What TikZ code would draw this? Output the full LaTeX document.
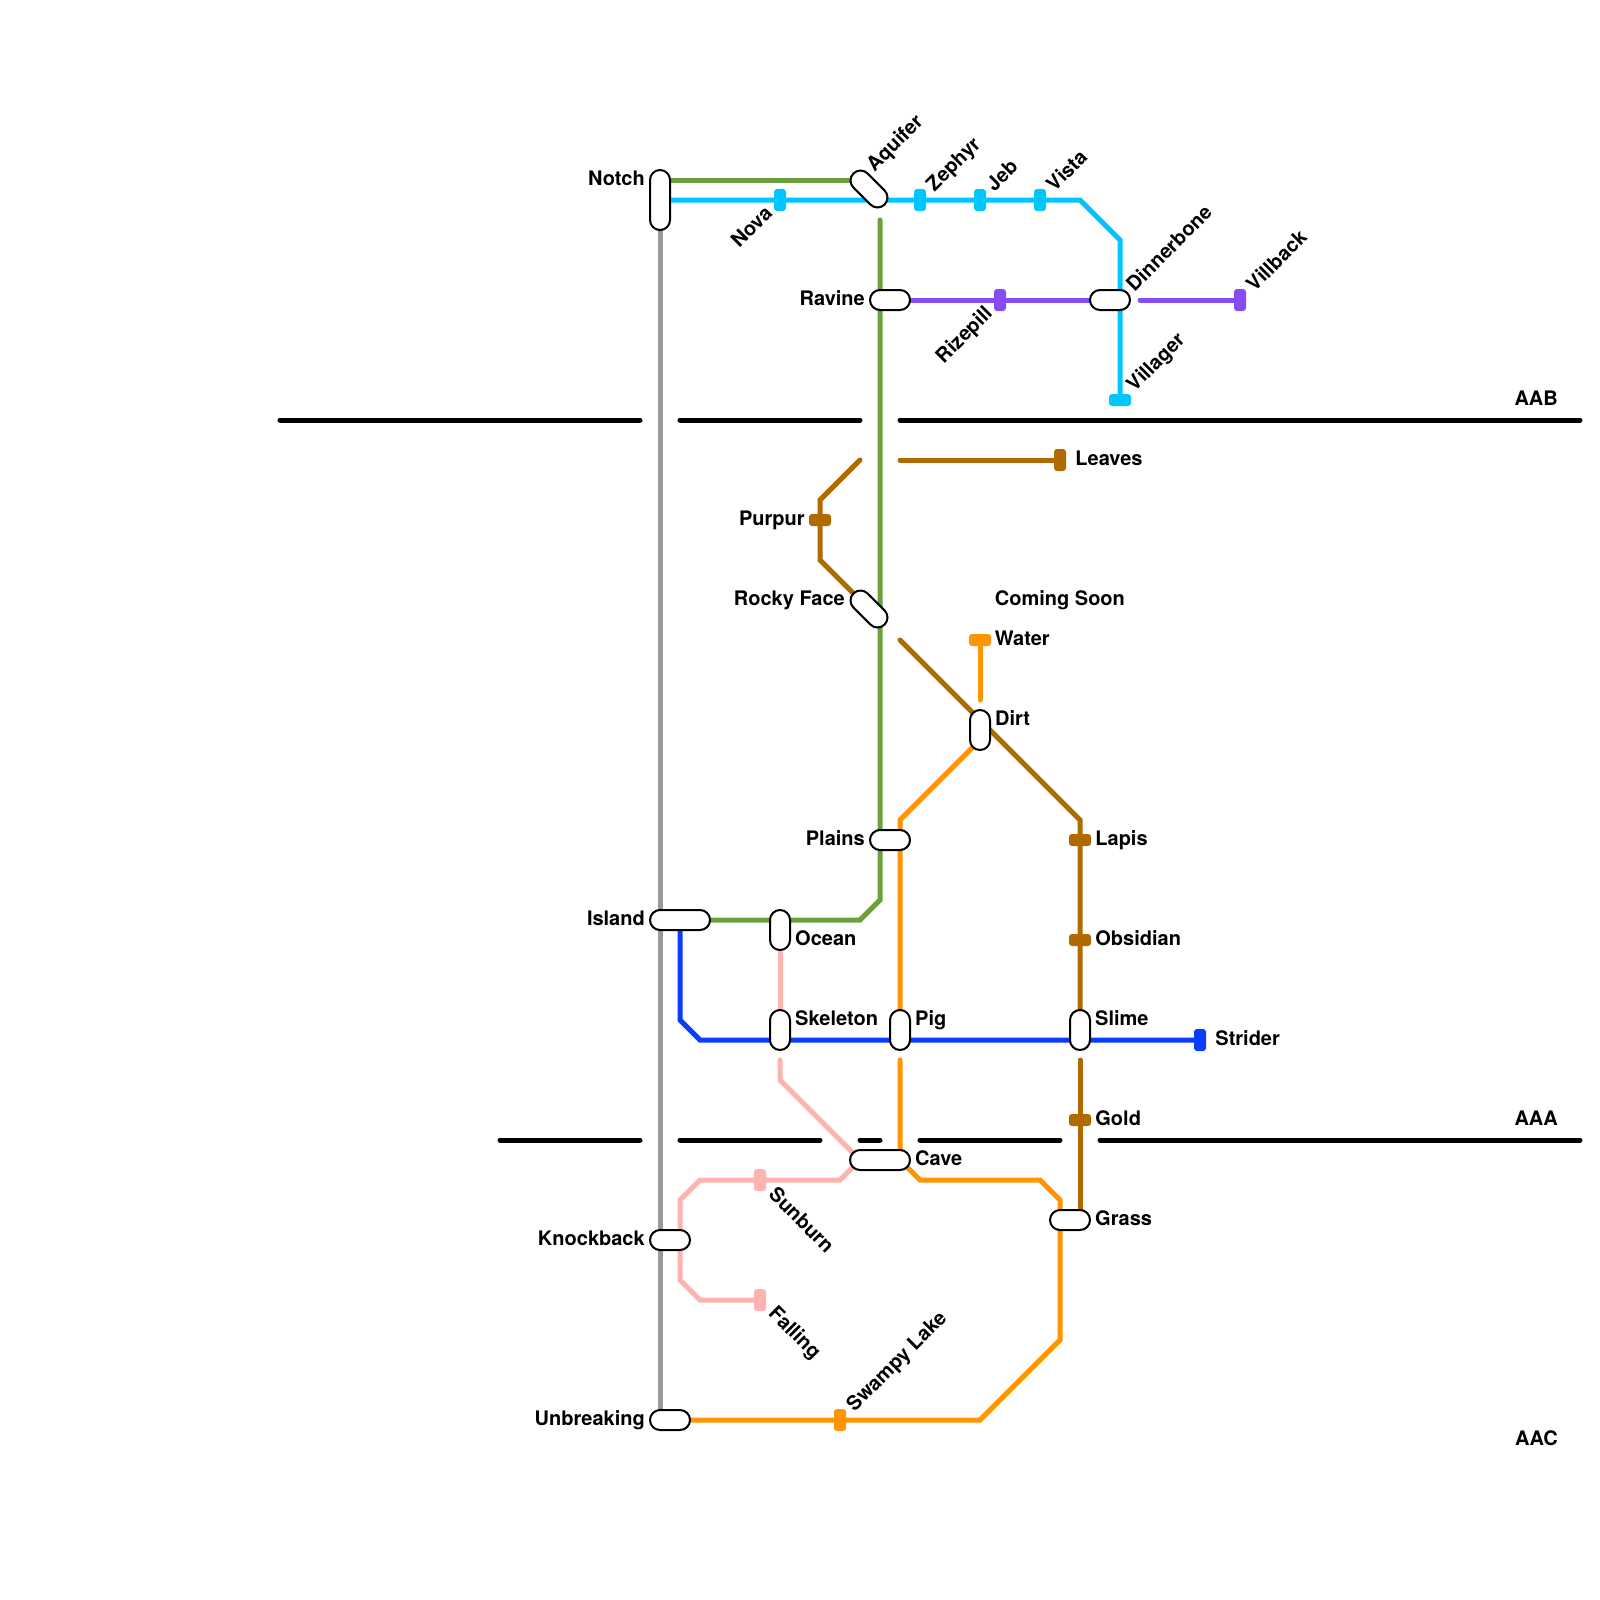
\documentclass[tikz,border=0pt]{standalone}
\usepackage{fontspec}
\setmainfont{TeX Gyre Heros}
\usepackage{xcolor}
\usepackage{tikz}
\usetikzlibrary{positioning, calc, backgrounds}

\definecolor{lineGreen}{HTML}{6AA13C}
\definecolor{lineCyan}{HTML}{00C5FF}
\definecolor{linePurple}{HTML}{844DF5}
\definecolor{lineBrown}{HTML}{B06A00}
\definecolor{lineOrange}{HTML}{FF9500}
\definecolor{linePink}{HTML}{FFB3AE}
\definecolor{lineBlue}{HTML}{0A3CFF}
\definecolor{lineGray}{HTML}{999999}

\begin{document}
\begin{tikzpicture}[x=1pt, y=-1pt,
    wide/.style={rectangle, draw=black, line width=2pt, fill=white, rounded corners=10pt, inner sep=0pt, minimum width=40pt, minimum height=20pt},
    tall/.style={wide, minimum width=20pt, minimum height=40pt},
    stopv/.style={rectangle, rounded corners=3pt, inner sep=0pt, minimum width=12pt, minimum height=22pt},
    stoph/.style={stopv, minimum width=22pt, minimum height=12pt},
    lbl/.style={font=\fontsize{20}{22}\selectfont\bfseries, inner sep=0pt, text height=14pt, text depth=4pt},
    route/.style={line width=5pt, line cap=round},
    border/.style={route, draw=black},
    greenline/.style={route, draw=lineGreen},
    cyanline/.style={route, draw=lineCyan},
    purpleline/.style={route, draw=linePurple},
    brownline/.style={route, draw=lineBrown},
    orangeline/.style={route, draw=lineOrange},
    pinkline/.style={route, draw=linePink},
    blueline/.style={route, draw=lineBlue},
    grayline/.style={route, draw=lineGray}
]
    \useasboundingbox (0,0) rectangle (1600,1600);

    % Interchanges
    \node [tall, minimum height=60pt] (notch) at (660,200) {};
    \node [wide, minimum width=44pt, rotate=-45] (aquifer) at (869,189) {};
    \node [wide] (ravine) at (890,300) {};
    \node [wide] (dinnerbone) at (1110,300) {};
    \node [wide, minimum width=44pt, rotate=-45] (rocky) at (869,609) {};
    \node [tall] (dirt) at (980,730) {};
    \node [wide] (plains) at (890,840) {};
    \node [wide, minimum width=60pt] (island) at (680,920) {};
    \node [tall] (ocean) at (780,930) {};
    \node [tall] (skeleton) at (780,1030) {};
    \node [tall] (pig) at (900,1030) {};
    \node [tall] (slime) at (1080,1030) {};
    \node [wide, minimum width=60pt] (cave) at (880,1160) {};
    \node [wide] (grass) at (1070,1220) {};
    \node [wide] (knockback) at (670,1240) {};
    \node [wide] (unbreaking) at (670,1420) {};

    % Stops
    \node [stopv, fill=lineCyan] (nova) at (780,200) {};
    \node [stopv, fill=lineCyan] (zephyr) at (920,200) {};
    \node [stopv, fill=lineCyan] (jeb) at (980,200) {};
    \node [stopv, fill=lineCyan] (vista) at (1040,200) {};
    \node [stoph, fill=lineCyan] (villager) at (1120,400) {};
    \node [stopv, fill=linePurple] (rizepill) at (1000,300) {};
    \node [stopv, fill=linePurple] (villback) at (1240,300) {};
    \node [stopv, fill=lineBrown] (leaves) at (1060,460) {};
    \node [stoph, fill=lineBrown] (purpur) at (820,520) {};
    \node [stoph, fill=lineBrown] (lapis) at (1080,840) {};
    \node [stoph, fill=lineBrown] (obsidian) at (1080,940) {};
    \node [stoph, fill=lineBrown] (gold) at (1080,1120) {};
    \node [stoph, fill=lineOrange] (water) at (980,640) {};
    \node [stopv, fill=lineOrange] (swampy) at (840,1420) {};
    \node [stopv, fill=lineBlue] (strider) at (1200,1040) {};
    \node [stopv, fill=linePink] (sunburn) at (760,1180) {};
    \node [stopv, fill=linePink] (falling) at (760,1300) {};

    % Labels
    \node [lbl, left=4pt of notch, yshift=20pt] {Notch};
    \node [lbl, left=4pt of ravine] {Ravine};
    \node [lbl, anchor=east] at ($(rocky)+(-24,-9)$) {Rocky Face};
    \node [lbl, left=4pt of purpur] {Purpur};
    \node [lbl, left=4pt of plains] {Plains};
    \node [lbl, left=4pt of island] {Island};
    \node [lbl, left=4pt of knockback] {Knockback};
    \node [lbl, left=4pt of unbreaking] {Unbreaking};
    \node [lbl, right=4pt of ocean, yshift=-10pt] {Ocean};
    \node [lbl, right=4pt of skeleton, yshift=10pt] {Skeleton};
    \node [lbl, right=4pt of pig, yshift=10pt] {Pig};
    \node [lbl, right=4pt of slime, yshift=10pt] {Slime};
    \node [lbl, right=9pt of strider] {Strider};
    \node [lbl, right=4pt of cave] {Cave};
    \node [lbl, right=4pt of gold] {Gold};
    \node [lbl, right=4pt of grass] {Grass};
    \node [lbl, right=4pt of lapis] {Lapis};
    \node [lbl, right=4pt of obsidian] {Obsidian};
    \node [lbl, right=9pt of leaves] {Leaves};
    \node [lbl, right=3.5pt of water] (waterlbl) {Water};
    \node [lbl, anchor=west] at ($(waterlbl.west)+(0,-40)$) {Coming Soon};
    \node [lbl, right=4pt of dirt, yshift=10pt] {Dirt};

    % Slanted labels
    \node [lbl, rotate=45, anchor=west] at ($(aquifer)+(2,-20)$) {Aquifer};
    \node [lbl, rotate=45, anchor=west] at ($(zephyr)+(11,-11)$) {Zephyr};
    \node [lbl, rotate=45, anchor=west] at ($(jeb)+(11,-11)$) {Jeb};
    \node [lbl, rotate=45, anchor=west] at ($(vista)+(11,-11)$) {Vista};
    \node [lbl, rotate=45, anchor=west] at ($(dinnerbone)+(21,-11)$) {Dinnerbone};
    \node [lbl, rotate=45, anchor=west] at ($(villback)+(11,-11)$) {Villback};
    \node [lbl, rotate=45, anchor=west] at ($(villager)+(11,-11)$) {Villager};
    \node [lbl, rotate=45, anchor=west] at ($(swampy)+(11,-11)$) {Swampy Lake};
    \node [lbl, rotate=45, anchor=east] at ($(nova)+(-10,11)$) {Nova};
    \node [lbl, rotate=45, anchor=east] at ($(rizepill)+(-10,11)$) {Rizepill};
    \node [lbl, rotate=-45, anchor=west] at ($(sunburn)+(11,12)$) {Sunburn};
    \node [lbl, rotate=-45, anchor=west] at ($(falling)+(11,11)$) {Falling};

    % Zones
    \node [lbl, anchor=east] (aab) at (1558,400) {AAB};
    \node [lbl, anchor=east] (aaa) at (1558,1120) {AAA};
    \node [lbl, anchor=east] (aac) at (1558,1440) {AAC};

    \coordinate (ab1) at (280,420);
    \coordinate (ab2) at (640,420);
    \coordinate (ab3) at (680,420);
    \coordinate (ab4) at (860,420);
    \coordinate (ab5) at (900,420);
    \coordinate (ab6) at (1580,420);
    \draw [border] (ab1) -- (ab2);
    \draw [border] (ab3) -- (ab4);
    \draw [border] (ab5) -- (ab6);

    \coordinate (aa1) at (500,1140);
    \coordinate (aa2) at (640,1140);
    \coordinate (aa3) at (680,1140);
    \coordinate (aa4) at (820,1140);
    \coordinate (aa5) at (860,1140);
    \coordinate (aa6) at (880,1140);
    \coordinate (aa7) at (920,1140);
    \coordinate (aa8) at (1060,1140);
    \coordinate (aa9) at (1100,1140);
    \coordinate (aa10) at (1580,1140);
    \draw [border] (aa1) -- (aa2);
    \draw [border] (aa3) -- (aa4);
    \draw [border] (aa5) -- (aa6);
    \draw [border] (aa7) -- (aa8);
    \draw [border] (aa9) -- (aa10);

    % Bends
    \coordinate (c1) at (1080,200);
    \coordinate (c2) at (1120,240);
    \coordinate (g1) at (880,220);
    \coordinate (g2) at (880,900);
    \coordinate (g3) at (860,920);
    \coordinate (p1) at (1140,300);
    \coordinate (br1) at (900,460);
    \coordinate (br2) at (860,460);
    \coordinate (br3) at (820,500);
    \coordinate (br4) at (820,560);
    \coordinate (br5) at (900,640);
    \coordinate (br6) at (1080,820);
    \coordinate (br7) at (1080,1060);
    \coordinate (o1) at (980,700);
    \coordinate (o2) at (900,820);
    \coordinate (o3) at (900,1060);
    \coordinate (o4) at (920,1180);
    \coordinate (o5) at (1040,1180);
    \coordinate (o6) at (1060,1200);
    \coordinate (o7) at (1060,1340);
    \coordinate (o8) at (980,1420);
    \coordinate (b1) at (680,1020);
    \coordinate (b2) at (700,1040);
    \coordinate (k1) at (780,1060);
    \coordinate (k2) at (780,1080);
    \coordinate (k3) at (840,1180);
    \coordinate (k4) at (700,1180);
    \coordinate (k5) at (680,1200);
    \coordinate (k6) at (680,1280);
    \coordinate (k7) at (700,1300);

    % Lines
    \begin{scope}[on background layer]
    \path [grayline] (notch.center) -- (unbreaking.center -| notch.center);
    \path [greenline] ([yshift=20pt]notch.center) -- ([xshift=-9pt, yshift=9pt]aquifer.center);
    \path [greenline] (g1) -- (ravine.center -| g1) -- (rocky.center -| g1) -- (g2) -- (g3) -- (island.center);
    \path [cyanline] (notch.center) -- (nova.center) -- (zephyr.center) -- (jeb.center) -- (vista.center) -- (c1) -- (c2) -- (villager.center);
    \path [purpleline] (ravine.center) -- (rizepill.center) -- (dinnerbone.center);
    \path [purpleline] (p1) -- (villback.center);
    \path [brownline] (br1) -- (leaves.center);
    \path [brownline] (br2) -- (br3) -- (purpur.center) -- (br4) -- (rocky.center);
    \path [brownline] (br5) -- (br6) -- (lapis.center) -- (obsidian.center) -- (slime.center);
    \path [brownline] (br7) -- (gold.center) -- (grass.center -| gold.center);
    \path [orangeline] (water.center) -- (o1);
    \path [orangeline] ([yshift=-10pt]dirt.center) -- (o2) -- (pig.center);
    \path [orangeline] (o3) -- ([xshift=20pt]cave.center) -- (o4) -- (o5) -- (o6) -- (o7) -- (o8) -- (swampy.center) -- (unbreaking.center);
    \path [blueline] (island.center) -- (b1) -- (b2) -- (skeleton.center |- b2) -- (pig.center |- b2) -- (slime.center |- b2) -- (strider.center);
    \path [pinkline] (ocean.center) -- (skeleton.center);
    \path [pinkline] (k1) -- (k2) -- ([xshift=-20pt]cave.center) -- (k3) -- (sunburn.center) -- (k4) -- (k5) -- (k6) -- (k7) -- (falling.center);
    \end{scope}
\end{tikzpicture}
\end{document}
